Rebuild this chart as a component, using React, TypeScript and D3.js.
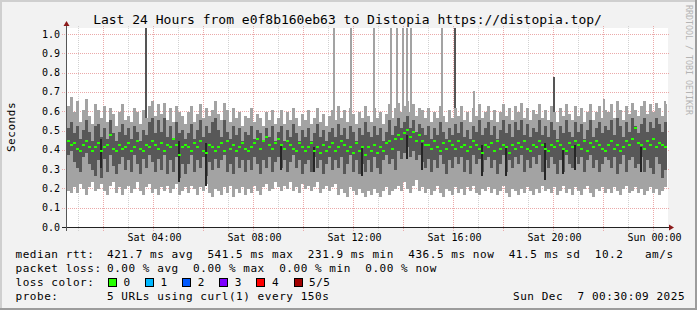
import React from "react";
import * as d3 from "d3";

// ---- time frame ----
const startTime = new Date(2025, 11, 6, 0, 32, 48);
const endTime = new Date(2025, 11, 7, 0, 32, 48);
const binMinutes = 7.2;

// ---- smoke data (hundredths of a second), one value per 7.2 min bin ----
const hiVals = [
  63,68,60,66,55,61,67,58,54,64, 61,57,63,55,62,59,53,60,64,56,
  58,55,62,60,54,61,57,63,66,58, 64,59,65,56,62,55,63,60,58,54,
  60,63,55,59,64,57,62,58,61,66, 59,56,65,61,55,62,57,60,53,58,
  57,62,55,59,57,53,60,56,61,54, 57,61,54,60,56,62,57,53,59,56,
  61,54,57,62,55,59,53,58,61,56, 63,57,61,55,62,59,54,60,57,63,
  58,55,62,57,60,54,59,64,57,62, 65,60,63,66,60,64,58,62,61,57,
  62,55,60,57,63,58,55,61,57,62, 58,63,56,60,55,62,58,64,57,60,
  63,56,61,55,60,64,58,62,56,63, 60,65,57,62,56,61,59,64,57,61,
  56,63,60,55,62,58,64,59,56,63, 58,62,55,60,64,56,60,63,57,61,
  60,64,57,66,61,56,63,59,65,61, 58,63,66,59,64,60,65,62,58,64,
];
const q3Vals = [
  52,55,49,53,46,51,56,50,45,53, 54,47,52,46,56,49,45,50,54,48,
  52,46,53,50,45,51,48,55,57,49, 56,50,57,47,53,46,55,49,51,46,
  49,54,46,51,56,47,53,49,55,57, 51,47,56,50,46,53,48,52,45,50,
  48,53,46,51,49,45,52,47,53,45, 50,53,45,51,47,54,49,45,51,47,
  52,45,49,54,47,51,45,50,52,47, 54,48,52,46,53,50,45,52,48,55,
  50,47,53,48,52,45,50,56,48,53, 57,52,55,58,52,56,50,54,52,48,
  53,46,52,48,55,50,46,52,48,54, 49,55,47,51,46,53,50,56,48,52,
  55,48,53,46,51,56,49,54,47,55, 51,56,48,54,47,52,50,56,48,53,
  47,55,51,46,53,49,56,50,47,55, 50,54,46,51,56,47,52,55,49,53,
  51,56,48,57,53,47,55,50,57,53, 49,54,57,50,55,52,57,54,50,55,
];
const medVals = [
  45,43,44,41,40,43,45,42,40,42, 44,40,42,43,48,41,40,43,41,42,
  44,40,42,45,41,40,43,42,45,43, 41,44,40,43,42,46,43,38,42,43,
  42,40,44,42,45,40,39,43,42,40, 42,44,40,45,41,43,40,42,44,41,
  40,42,44,46,41,45,47,43,41,44, 46,43,41,45,43,41,40,44,42,40,
  42,44,40,42,39,43,40,42,44,40, 42,45,43,40,42,39,44,40,42,38,
  42,40,43,39,42,40,44,45,41,46, 48,46,49,51,47,50,45,48,45,43,
  43,41,45,42,40,44,41,45,43,41, 45,42,43,40,42,45,43,41,39,43,
  42,44,40,45,41,43,42,39,43,41, 44,42,45,41,40,43,42,45,43,41,
  40,43,42,45,43,41,40,44,42,45, 43,41,45,40,44,42,45,43,41,40,
  43,45,41,43,40,42,45,43,46,52, 44,43,41,45,43,46,42,44,43,42,
];
const q1Vals = [
  38,40,34,31,29,37,39,33,30,27, 35,26,36,29,38,32,28,33,37,30,
  35,29,38,33,28,36,31,38,34,29, 36,30,38,28,35,29,37,26,33,28,
  33,38,29,35,31,37,27,34,30,36, 31,35,38,29,33,28,37,31,35,29,
  35,30,37,33,28,35,31,37,29,34, 37,31,35,29,34,38,31,35,28,33,
  35,29,37,31,35,28,33,37,30,35, 31,37,28,33,38,29,35,28,33,29,
  35,29,37,31,28,35,38,33,36,30, 40,36,39,42,37,40,35,38,34,31,
  36,29,35,31,38,33,28,35,31,37, 33,37,29,35,28,38,33,36,29,35,
  37,31,35,28,33,38,29,35,31,37, 33,38,29,35,31,37,33,38,29,35,
  31,37,33,28,35,29,38,33,31,37, 33,37,29,35,38,31,35,29,33,37,
  35,31,37,28,33,38,29,35,37,31, 33,37,29,35,31,28,37,33,26,30,
];
const loVals = [
  19,18,21,18,23,20,17,21,24,19, 20,23,19,17,22,24,18,21,17,20,
  22,18,20,24,19,17,21,23,18,20, 17,21,19,22,18,20,23,17,19,21,
  18,22,20,17,21,19,23,18,16,20, 19,17,21,18,22,16,20,18,21,17,
  20,18,22,19,17,21,23,19,20,24, 21,19,22,20,24,19,21,18,23,20,
  22,19,21,24,18,20,22,19,21,23, 17,20,18,16,21,19,17,20,18,16,
  19,17,20,18,16,19,21,17,19,20, 22,19,24,20,18,22,25,19,21,18,
  20,17,19,22,18,16,20,19,17,21, 18,20,17,21,19,22,18,17,20,19,
  21,18,20,17,19,22,18,16,20,19, 17,20,18,21,19,17,20,18,22,19,
  20,18,21,17,19,22,18,20,17,21, 19,17,20,22,18,16,20,19,21,18,
  20,18,21,19,17,20,22,18,19,21, 18,20,17,19,21,18,20,17,19,21,
];

// darker streaks inside the smoke (bin index, top, bottom in hundredths)
const streakBins = [11, 37, 46, 71, 82, 98, 113, 118, 138, 146, 159, 165, 169, 191];
const streakTops = [46, 45, 44, 43, 42, 42, 48, 44, 43, 42, 44, 41, 43, 42];
const streakBottoms = [31, 24, 22, 30, 29, 27, 36, 30, 27, 27, 25, 28, 30, 29];

// single tall outliers (hours after start, top value in seconds, dark?)
const spikeHours = [3.15, 10.65, 11.32, 12.25, 12.95, 13.19, 13.41, 13.59, 13.75, 14.96, 15.49, 16.25, 19.45, 21.46, 23.88];
const spikeTops = [1.2, 1.2, 1.2, 1.2, 1.2, 1.2, 1.2, 1.2, 1.2, 1.2, 1.2, 0.71, 0.78, 0.67, 0.66];
const spikeDark = [true, false, false, false, false, false, false, false, false, false, true, false, true, false, false];

const yTickValues = [0, 0.1, 0.2, 0.3, 0.4, 0.5, 0.6, 0.7, 0.8, 0.9, 1.0];

const lossLabels = ["0", "1", "2", "3", "4", "5/5"];
const lossColors = ["#26ff00", "#00b8ff", "#0059ff", "#7e00ff", "#ff0000", "#a10000"];

const titleText = "Last 24 Hours from e0f8b160eb63 to Distopia https://distopia.top/";
const legendRows = [
  ["median rtt:", "421.7 ms avg  541.5 ms max  231.9 ms min  436.5 ms now  41.5 ms sd  10.2   am/s"],
  ["packet loss:", "0.00 % avg  0.00 % max  0.00 % min  0.00 % now"],
  ["loss color:", ""],
  ["probe:", "5 URLs using curl(1) every 150s"],
];
const dateText = "Sun Dec  7 00:30:09 2025";

const MONO = "'DejaVu Sans Mono', monospace";

export default function App() {
  const W = 697, H = 310;
  const x = d3.scaleTime().domain([startTime, endTime]).range([67, 667]);
  const y = d3.scaleLinear().domain([0, 1]).range([228, 35]);
  const binTime = (i: number) => new Date(startTime.getTime() + i * binMinutes * 60000);
  const bx = (i: number) => x(binTime(i));
  const bw = (i: number) => x(binTime(i + 1)) - x(binTime(i));
  const v = (n: number) => n / 100;

  const hours = d3.timeHour.range(d3.timeHour.ceil(startTime), endTime);
  const fmt = d3.timeFormat("%a %H:%M");
  const gx = (t: Date) => Math.floor(x(t)) + 0.5;

  const clipTop = 28;
  const rectY = (a: number, b: number) => {
    const top = Math.max(clipTop, y(b));
    return { y: top, h: Math.max(0, y(a) - top) };
  };

  return (
    <svg width={W} height={H} style={{ position: "absolute", left: 0, top: 0, background: "#f2f2f2" }}
      shapeRendering="crispEdges">
      <rect x={0} y={0} width={W} height={H} fill="#f2f2f2" />
      <rect x={0} y={0} width={W} height={2} fill="#cfcfcf" />
      <rect x={0} y={0} width={2} height={H} fill="#cfcfcf" />
      <rect x={0} y={H - 2} width={W} height={2} fill="#9c9c9c" />
      <rect x={W - 2} y={0} width={2} height={H} fill="#9c9c9c" />

      {/* canvas */}
      <rect x={67} y={28} width={601} height={200} fill="#ffffff" />

      {/* grid */}
      <g>
        {hours.map((t, i) => (
          <line key={"vg" + i} x1={gx(t)} x2={gx(t)} y1={26} y2={231}
            stroke={t.getHours() % 2 === 0 ? "#eba9a9" : "#d2d2d2"} strokeWidth={1} strokeDasharray="1,1" />
        ))}
        {yTickValues.slice(1).map((tv, i) => (
          <line key={"hg" + i} x1={62} x2={669} y1={y(tv) - 0.5} y2={y(tv) - 0.5}
            stroke="#eba9a9" strokeWidth={1} strokeDasharray="1,1" />
        ))}
      </g>

      {/* spikes */}
      <g>
        {spikeHours.map((h, i) => {
          const px = Math.floor(x(new Date(startTime.getTime() + h * 3600000)));
          const r = rectY(0.45, spikeTops[i]);
          return <rect key={"sp" + i} x={px} y={r.y} width={2} height={r.h}
            fill={spikeDark[i] ? "#555555" : "#a3a3a3"} />;
        })}
      </g>

      {/* outer smoke */}
      <g>
        {hiVals.map((hv, i) => {
          const r = rectY(v(loVals[i]), v(hv));
          return <rect key={"o" + i} x={bx(i)} y={r.y} width={bw(i)} height={r.h} fill="#a3a3a3" />;
        })}
      </g>
      {/* inner smoke */}
      <g>
        {q3Vals.map((qv, i) => {
          const r = rectY(v(q1Vals[i]), v(qv));
          return <rect key={"i" + i} x={bx(i)} y={r.y} width={bw(i)} height={r.h} fill="#585858" />;
        })}
      </g>
      {/* dark streaks */}
      <g>
        {streakBins.map((b, i) => {
          const r = rectY(v(streakBottoms[i]), v(streakTops[i]));
          return <rect key={"st" + i} x={bx(b)} y={r.y} width={2} height={r.h} fill="#262626" />;
        })}
      </g>
      {/* median */}
      <g>
        {medVals.map((m, i) => (
          <rect key={"m" + i} x={bx(i)} y={Math.round(y(v(m))) - 1} width={bw(i)} height={2} fill="#26ff00" />
        ))}
      </g>

      {/* axes */}
      <line x1={62} x2={671} y1={227.5} y2={227.5} stroke="#222" strokeWidth={1} />
      <path d="M669,224.5 L674,227.5 L669,230.5 Z" fill="#8b1a1a" shapeRendering="auto" />
      <line x1={66.5} x2={66.5} y1={25} y2={231} stroke="#555" strokeWidth={1} />
      <path d="M63.5,26 L66.5,21 L69.5,26 Z" fill="#8b1a1a" shapeRendering="auto" />

      {/* y labels */}
      <g fontFamily={MONO} fontSize={10} fill="#000">
        {yTickValues.map((tv, i) => (
          <text key={"yl" + i} x={60} y={y(tv) + 2.5} textAnchor="end">{d3.format(".1f")(tv)}</text>
        ))}
        {hours.filter((t) => t.getHours() % 4 === 0).map((t, i) => (
          <text key={"xl" + i} x={gx(t) + 1} y={241} textAnchor="middle">{fmt(t)}</text>
        ))}
      </g>

      {/* title */}
      <text x={347.5} y={24} textAnchor="middle" fontFamily={MONO} fontSize={13} fill="#000">{titleText}</text>

      {/* y axis title */}
      <text transform="translate(15,127) rotate(-90)" textAnchor="middle" fontFamily={MONO} fontSize={11}
        letterSpacing={0.55} fill="#000">Seconds</text>

      {/* watermark */}
      <text transform="translate(686,5) rotate(90)" fontFamily={MONO} fontSize={8.3} fill="#b4b4b4">RRDTOOL / TOBI OETIKER</text>

      {/* legend */}
      <g fontFamily={MONO} fontSize={11} letterSpacing={0.55} fill="#000" style={{ whiteSpace: "pre" }}>
        {legendRows.map((row, i) => (
          <g key={"lg" + i}>
            <text x={15.5} y={258 + i * 14} xmlSpace="preserve">{row[0]}</text>
            {row[1] ? <text x={107} y={258 + i * 14} xmlSpace="preserve">{row[1]}</text> : null}
          </g>
        ))}
        {lossLabels.map((lab, i) => (
          <g key={"lc" + i}>
            <rect x={108.5 + i * 37.1} y={278.5} width={8} height={8} fill={lossColors[i]} stroke="#000" strokeWidth={1} />
            <text x={123.5 + i * 37.1} y={286}>{lab}</text>
          </g>
        ))}
        <text x={513} y={300} xmlSpace="preserve">{dateText}</text>
      </g>
    </svg>
  );
}
